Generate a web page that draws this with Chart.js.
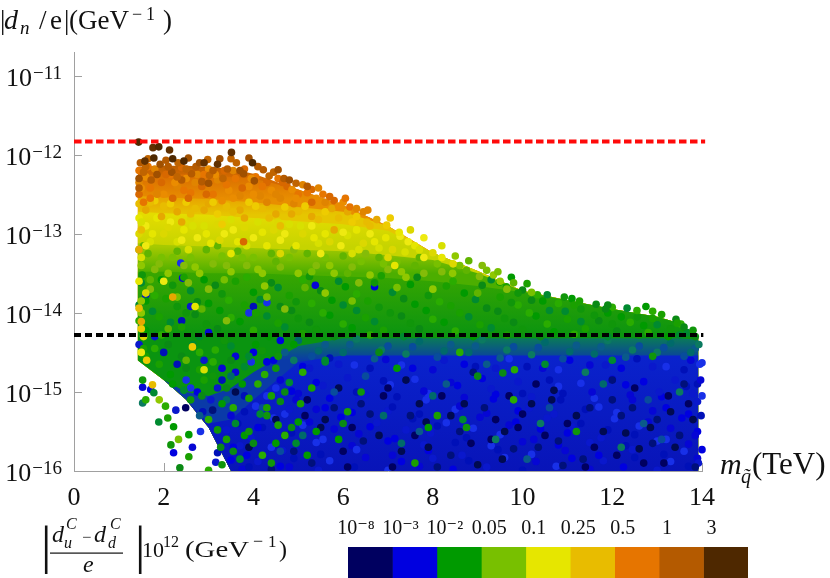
<!DOCTYPE html>
<html><head><meta charset="utf-8">
<script src="https://cdn.jsdelivr.net/npm/chart.js@4.4.1/dist/chart.umd.min.js"></script>
<style>
html,body{margin:0;padding:0;background:#fff;width:830px;height:578px;overflow:hidden}
#main{position:absolute;left:0;top:0}
#cbar{position:absolute;left:290px;top:500px}
</style></head><body>
<canvas id="main" width="830" height="578"></canvas>
<canvas id="cbar" width="476" height="78"></canvas>
<script>
// ---------- data (x = squark mass in TeV, e = log10 |d_n/e| in GeV^-1) ----------
const xTicks = [0, 2, 4, 6, 8, 10, 12, 14];
const yTickExps = [-16, -15, -14, -13, -12, -11];
const yMinExp = -16, yMaxExp = -10.7;
const redLimitExp = -11.833;   // upper dashed line
const blackLimitExp = -14.28;  // lower dashed line

const colorbarLabels = ['10⁻⁸', '10⁻³', '10⁻²', '0.05', '0.1', '0.25', '0.5', '1', '3'];
const colorbarColors = ['#000060', '#0000e0', '#009a00', '#78c000', '#e6e600', '#e8bc00', '#e67500', '#b45a00', '#4e2800'];

// envelope of the dense cloud and colour-zone borders, sampled along x
const bandX      = [1.42, 2, 2.5, 3, 3.5, 4, 5, 6, 7, 8, 9, 10, 11, 12, 13, 13.5, 13.92];
const topEdge    = [-12.15,-12.14,-12.14,-12.15,-12.18,-12.24,-12.44,-12.64,-12.9,-13.24,-13.47,-13.72,-13.84,-13.95,-14.05,-14.13,-14.32];
const brownEdge  = [-12.26,-12.25,-12.25,-12.26,-12.28,-12.3,-12.44,-12.64,-12.9,-13.24,-13.47,-13.72,-13.84,-13.95,-14.05,-14.13,-14.32];
const orangeEdge = [-12.52,-12.54,-12.55,-12.56,-12.58,-12.6,-12.66,-12.72,-12.9,-13.24,-13.47,-13.72,-13.84,-13.95,-14.05,-14.13,-14.32];
const goldEdge   = [-12.72,-12.74,-12.75,-12.76,-12.78,-12.8,-12.84,-12.88,-12.96,-13.24,-13.47,-13.72,-13.84,-13.95,-14.05,-14.13,-14.32];
const yellowEdge = [-13.12,-13.14,-13.15,-13.16,-13.17,-13.18,-13.2,-13.22,-13.27,-13.33,-13.5,-13.72,-13.84,-13.95,-14.05,-14.13,-14.32];
const ygEdge     = [-13.48,-13.48,-13.49,-13.5,-13.5,-13.5,-13.52,-13.54,-13.56,-13.6,-13.66,-13.74,-13.84,-13.95,-14.05,-14.13,-14.32];
const greenEdge  = [-14.6,-14.85,-15.0,-15.05,-14.95,-14.75,-14.42,-14.32,-14.32,-14.32,-14.32,-14.32,-14.32,-14.32,-14.32,-14.32,-14.34];
const tealEdge   = [-14.6,-14.85,-15.1,-15.4,-15.35,-15.1,-14.62,-14.54,-14.54,-14.54,-14.54,-14.54,-14.54,-14.54,-14.54,-14.54,-14.54];
const bottomEdge = [-14.6,-14.85,-15.1,-15.45,-16,-16,-16,-16,-16,-16,-16,-16,-16,-16,-16,-16,-16];

// individual points per colour class [x, log10 y]
const darkBrownPts = [[1.44,-11.84],[1.76,-11.91],[1.89,-11.9],[2.13,-11.94],[1.78,-12.04],[3.51,-11.97],[3.98,-12.1],[1.58,-12.08],[2.45,-12.08],[2.9,-12.1],[2.2,-12.05],[3.2,-12.12]];
const brownPts = [[1.48,-12.1],[1.65,-12.05],[1.92,-12.12],[2.05,-12.07],[2.32,-12.1],[2.55,-12.04],[2.72,-12.15],[2.98,-12.06],[3.25,-12.05],[3.42,-12.18],[3.62,-12.1],[3.9,-12.04],[4.22,-12.19],[4.45,-12.22],[4.55,-12.19],[4.68,-12.3],[1.55,-12.22],[2.18,-12.22],[2.62,-12.24],[3.02,-12.26],[3.78,-12.24],[1.72,-12.32],[3.32,-12.3],[4.02,-12.33],[2.85,-12.34],[4.95,-12.36],[1.45,-12.3],[2.4,-12.32],
 [1.6,-12.15],[1.85,-12.25],[2.1,-12.15],[2.5,-12.18],[2.8,-12.1],[3.1,-12.2],[3.5,-12.05],[3.7,-12.2],[4.1,-12.15],[4.35,-12.27],[4.8,-12.32],[5.2,-12.4],[2.3,-12.28],[3.0,-12.36],[1.45,-12.42]];
const orangePts = [[1.45,-12.2],[1.45,-12.35],[1.45,-12.5],[1.6,-12.28],[1.7,-12.42],[1.8,-12.18],[1.95,-12.35],[2.0,-12.5],[2.15,-12.25],[2.3,-12.4],[2.4,-12.16],[2.5,-12.3],[2.6,-12.48],[2.75,-12.25],[2.85,-12.4],[3.0,-12.18],[3.1,-12.5],[3.2,-12.32],[3.35,-12.2],[3.45,-12.45],[3.6,-12.3],[3.7,-12.52],[3.8,-12.18],[3.9,-12.4],[4.05,-12.28],[4.15,-12.52],[4.3,-12.35],[4.4,-12.45],[4.55,-12.3],[4.6,-12.55],[4.75,-12.4],[4.86,-12.44],[5.0,-12.5],[5.1,-12.38],[5.3,-12.44],[5.4,-12.55],[5.55,-12.5],[5.6,-12.6],[5.8,-12.58],[6.0,-12.6],[6.15,-12.66],[6.3,-12.68],[2.2,-12.55],[3.3,-12.58],[1.55,-12.6],[4.9,-12.62],[3.78,-13.1],
 [1.5,-12.42],[1.65,-12.15],[1.85,-12.5],[2.05,-12.25],[2.25,-12.35],[2.45,-12.45],[2.7,-12.35],[2.95,-12.5],[3.15,-12.25],[3.4,-12.38],[3.55,-12.2],[3.75,-12.42],[4.0,-12.5],[4.2,-12.4],[4.5,-12.5],[4.65,-12.35],[4.95,-12.55],[5.2,-12.48],[5.45,-12.42],[5.7,-12.53],[5.9,-12.65],[6.05,-12.55],[6.45,-12.72],[2.55,-12.55],[3.55,-12.55],[1.7,-12.55],[4.3,-12.6],[5.3,-12.6],[3.95,-12.3],[2.9,-12.25],[6.55,-12.7]];
const goldPts = [[1.45,-12.62],[1.6,-12.7],[1.8,-12.58],[2.0,-12.65],[2.3,-12.72],[2.5,-12.6],[2.7,-12.68],[3.0,-12.62],[3.2,-12.75],[3.4,-12.65],[3.7,-12.7],[3.9,-12.6],[4.2,-12.68],[4.5,-12.75],[4.7,-12.66],[5.0,-12.72],[5.3,-12.78],[5.6,-12.72],[5.9,-12.8],[6.1,-12.72],[6.3,-12.78],[6.53,-12.85],[6.75,-12.82],[6.97,-12.89],[1.5,-12.95],[1.45,-13.2],[1.5,-14.2],[1.45,-13.94],[1.5,-14.11],[2.64,-14.43],[1.75,-14.91],[2.2,-13.8],[1.62,-14.6],
 [1.7,-12.6],[1.95,-12.78],[2.15,-12.62],[2.6,-12.75],[2.9,-12.7],[3.1,-12.6],[3.55,-12.72],[3.8,-12.8],[4.05,-12.65],[4.35,-12.8],[4.85,-12.75],[5.15,-12.65],[5.45,-12.82],[5.75,-12.68],[6.2,-12.85],[6.6,-12.9],[2.4,-12.85],[3.3,-12.88],[4.6,-12.9],[5.8,-12.95],[7.05,-12.8]];
const yellowPts = [[1.45,-12.8],[1.45,-13.0],[1.6,-12.9],[1.7,-13.1],[1.85,-12.8],[2.0,-13.0],[2.15,-12.85],[2.3,-13.1],[2.45,-12.95],[2.6,-12.8],[2.75,-13.05],[2.9,-12.9],[3.05,-13.12],[3.2,-12.88],[3.35,-13.0],[3.5,-12.82],[3.65,-13.1],[3.8,-12.92],[4.0,-13.05],[4.1,-12.85],[4.3,-13.15],[4.45,-12.95],[4.6,-13.08],[4.8,-12.88],[4.95,-13.15],[5.1,-13.0],[5.3,-12.9],[5.45,-13.12],[5.6,-13.0],[5.8,-12.92],[5.95,-13.15],[6.1,-13.02],[6.3,-12.95],[6.45,-13.12],[6.6,-13.0],[6.8,-13.18],[6.95,-13.05],[7.1,-13.2],[7.27,-13.03],[7.38,-13.23],[7.6,-13.15],[8.0,-13.24],[7.8,-13.3],[1.5,-13.3],[1.45,-13.6],[1.55,-14.3],[1.5,-14.5],[2.9,-14.72],[2.7,-13.92],[1.6,-13.75],[2.0,-13.6],
 [1.5,-12.85],[1.75,-13.0],[2.1,-12.92],[2.4,-13.08],[2.65,-12.9],[2.95,-13.0],[3.25,-13.08],[3.55,-12.95],[3.85,-13.15],[4.2,-12.98],[4.55,-12.85],[4.7,-13.0],[5.05,-12.9],[5.35,-13.05],[5.7,-13.1],[6.0,-12.98],[6.35,-13.2],[6.7,-13.1],[7.0,-13.3],[7.45,-13.1],[7.7,-13.2],[8.2,-13.3],[8.45,-13.38],[1.6,-13.15],[2.55,-13.2],[3.5,-13.25],[4.6,-13.25],[5.5,-13.25],[6.2,-13.25],[7.15,-13.4],
 [7.5,-12.95],[7.8,-13.05],[8.2,-13.15],[7.25,-12.98]];
const ygPts = [[1.45,-13.2],[1.5,-13.4],[1.65,-13.25],[1.8,-13.45],[1.95,-13.3],[2.1,-13.5],[2.3,-13.22],[2.45,-13.4],[2.6,-13.3],[2.8,-13.5],[2.95,-13.2],[3.1,-13.38],[3.3,-13.28],[3.5,-13.48],[3.65,-13.22],[3.85,-13.4],[4.0,-13.3],[4.2,-13.5],[4.4,-13.25],[4.6,-13.42],[4.8,-13.3],[5.0,-13.5],[5.2,-13.25],[5.4,-13.4],[5.6,-13.3],[5.8,-13.5],[6.0,-13.28],[6.2,-13.42],[6.4,-13.35],[6.6,-13.52],[6.8,-13.3],[7.0,-13.45],[7.2,-13.35],[7.4,-13.55],[7.6,-13.4],[7.8,-13.5],[8.1,-13.38],[8.44,-13.5],[8.75,-13.46],[9.04,-13.54],[9.2,-13.46],[9.5,-13.6],[9.8,-13.62],[1.7,-13.7],[2.3,-13.8],[1.5,-14.0],[2.1,-14.2],[3.0,-13.7],[2.33,-15.6],[1.9,-15.1],[2.5,-14.6],[3.4,-14.1],[4.3,-13.8],[5.6,-13.75],
 [1.55,-13.15],[1.9,-13.38],[2.2,-13.3],[2.7,-13.42],[3.2,-13.15],[3.4,-13.4],[3.75,-13.3],[4.1,-13.45],[4.5,-13.35],[4.9,-13.2],[5.3,-13.48],[5.7,-13.4],[6.1,-13.5],[6.5,-13.25],[6.9,-13.38],[7.3,-13.48],[7.7,-13.3],[8.2,-13.48],[8.6,-13.4],[9.35,-13.52],[1.7,-13.58],[2.55,-13.62],[3.35,-13.58],[4.25,-13.66],[5.15,-13.68],[6.35,-13.62],[7.2,-13.68],[8.0,-13.7],[9.0,-13.75],[9.65,-13.7],[10.2,-13.74],[1.5,-13.85],[2.85,-13.95],[4.7,-13.95],[6.2,-13.85],
 [8.5,-13.28],[8.8,-13.34],[9.1,-13.4],[9.45,-13.48]];
const greenPts = [[9.49,-13.61],[9.64,-13.67],[10.0,-13.71],[10.33,-13.77],[10.55,-13.77],[10.93,-13.8],[11.1,-13.82],[11.27,-13.85],[11.64,-13.89],[12.0,-13.93],[12.33,-13.94],[12.56,-14.05],[12.75,-13.92],[13.1,-14.02],[13.42,-14.08],[13.53,-14.14],[13.67,-14.25],[13.8,-14.22],[9.75,-13.55],[10.1,-13.63],[11.9,-13.9],[12.9,-13.98],
 [1.5,-13.62],[2.2,-13.65],[2.9,-13.58],[3.6,-13.6],[4.4,-13.62],[5.1,-13.58],[5.9,-13.6],[6.7,-13.62],[7.5,-13.64],[8.3,-13.66],[9.1,-13.65],
 [1.8,-13.78],[2.6,-13.72],[3.3,-13.76],[4.0,-13.74],[4.8,-13.78],[5.5,-13.72],[6.3,-13.76],[7.1,-13.74],[7.9,-13.78],[8.7,-13.75],[9.5,-13.8],[10.2,-13.84],[10.8,-13.88],
 [1.45,-13.9],[2.3,-13.92],[3.0,-13.88],[3.8,-13.9],[4.6,-13.92],[5.3,-13.88],[6.0,-13.9],[6.8,-13.93],[7.6,-13.89],[8.4,-13.91],[9.2,-13.94],[9.9,-13.9],[10.6,-13.97],[11.3,-13.95],[11.9,-14.0],
 [1.9,-14.05],[2.7,-14.02],[3.5,-14.06],[4.3,-14.04],[5.0,-14.07],[5.7,-14.03],[6.5,-14.06],[7.3,-14.04],[8.0,-14.08],[8.8,-14.05],[9.6,-14.07],[10.3,-14.04],[11.0,-14.08],[11.7,-14.1],[12.4,-14.12],[13.0,-14.15],[13.3,-14.2],
 [1.6,-14.22],[2.4,-14.18],[3.2,-14.2],[4.0,-14.22],[4.7,-14.18],[5.4,-14.21],[6.2,-14.19],[6.9,-14.22],[7.7,-14.2],[8.5,-14.23],[9.3,-14.19],[10.0,-14.21],[10.7,-14.24],[11.4,-14.2],[12.1,-14.23],[12.8,-14.25],[13.5,-14.28],
 [1.52,-13.52],[1.95,-13.58],[2.45,-13.55],[3.15,-13.65],[3.85,-13.55],[4.55,-13.68],[5.25,-13.54],[6.05,-13.67],[6.85,-13.53],[7.65,-13.55],[8.45,-13.6],[9.3,-13.58],[9.9,-13.75],
 [1.6,-13.85],[2.05,-13.82],[2.75,-13.86],[3.45,-13.84],[4.15,-13.83],[4.95,-13.86],[5.75,-13.84],[6.55,-13.85],[7.35,-13.82],[8.15,-13.86],[8.95,-13.83],[9.75,-13.87],[10.45,-13.85],[11.15,-13.9],[11.85,-13.95],[12.55,-13.97],
 [1.75,-13.98],[2.5,-14.0],[3.25,-13.97],[4.05,-14.0],[4.85,-13.97],[5.55,-14.0],[6.3,-13.97],[7.05,-14.0],[7.85,-13.97],[8.6,-14.0],[9.45,-13.98],[10.15,-14.0],[10.95,-13.98],[11.6,-14.03],[12.2,-14.05],[12.9,-14.07],[13.6,-14.18],
 [1.45,-14.1],[2.15,-14.12],[2.95,-14.14],[3.7,-14.11],[4.55,-14.13],[5.25,-14.12],[6.0,-14.14],[6.7,-14.11],[7.5,-14.13],[8.25,-14.12],[9.05,-14.15],[9.8,-14.12],[10.55,-14.14],[11.3,-14.11],[12.0,-14.14],[12.7,-14.16],[13.45,-14.13],[13.85,-14.3],
 [1.95,-14.28],[2.8,-14.3],[3.55,-14.27],[4.35,-14.3],[5.1,-14.26],[5.8,-14.3],[6.6,-14.28],[7.35,-14.3],[8.1,-14.27],[8.9,-14.3],[9.65,-14.28],[10.4,-14.3],[11.15,-14.27],[11.9,-14.3],[12.6,-14.28],[13.25,-14.3],
 [1.55,-14.45],[2.1,-14.4],[2.8,-14.5],[3.5,-14.42],[4.2,-14.48],[4.9,-14.4],
 [1.9,-14.65],[2.5,-14.7],[3.1,-14.62],[3.8,-14.68],[4.5,-14.7],
 [2.2,-14.9],[2.9,-14.85],[3.4,-14.95],[4.1,-14.9],[4.8,-14.88],
 [2.6,-15.1],[3.3,-15.15],[3.9,-15.08],[4.6,-15.12],
 [3.0,-15.35],[3.6,-15.4],[4.3,-15.3],[5.0,-15.38],
 [3.4,-15.6],[4.0,-15.65],[4.7,-15.55],
 [3.7,-15.85],[4.4,-15.9],[5.2,-15.8],
 [1.6,-14.55],[2.4,-14.55],[3.15,-14.47],[3.9,-14.55],[4.55,-14.55],[2.15,-14.78],[2.8,-14.72],[3.5,-14.6],[4.25,-14.78],[2.45,-14.98],[3.1,-14.8],[3.75,-14.9],[4.4,-15.05],[2.85,-15.05],[3.55,-15.2],[4.15,-15.28],[3.2,-15.48],[3.8,-15.55],[4.55,-15.42],[3.55,-15.75],[4.2,-15.8],[4.95,-15.65],[3.3,-15.92],[5.4,-15.5],[5.3,-14.95],[6.0,-15.4],[1.8,-14.45],[2.65,-14.4],[3.35,-14.35],[4.05,-14.4],
 [4.3,-15.2],[4.7,-15.0],[5.1,-14.75],[5.6,-14.62],[3.9,-15.5],[4.5,-15.65],[5.05,-15.15],[4.85,-15.45],
 [2.04,-15.18],[1.89,-15.38],[2.16,-15.67],[2.56,-15.54],[2.56,-15.82],[2.36,-15.96],[1.6,-15.1],[1.78,-15.01],[1.53,-14.85],[2.22,-15.44],[2.09,-15.33],[3.27,-15.7],[3.0,-15.99],
 [5.6,-14.6],[6.4,-15.0],[7.2,-14.7],[8.1,-15.3],[9.0,-14.8],[9.8,-15.1],[10.5,-14.65],[11.2,-15.5],[5.9,-15.6],[7.6,-15.9],[6.8,-14.5],[8.6,-14.5],[12.0,-14.6],[12.9,-14.55],[7.9,-15.45],[6.1,-15.25],[9.56,-14.76],[9.82,-14.72],[8.67,-15.35],[8.75,-15.45]];
const tealPts = [[5.0,-14.35],[5.6,-14.4],[6.3,-14.33],[7.0,-14.42],[7.7,-14.36],[8.4,-14.4],[9.1,-14.34],[9.8,-14.43],[10.5,-14.37],[11.2,-14.41],[11.9,-14.35],[12.6,-14.42],[13.3,-14.38],[13.85,-14.45],[13.93,-14.4],
 [5.3,-14.55],[6.0,-14.5],[6.7,-14.58],[7.4,-14.52],[8.1,-14.56],[8.8,-14.5],[9.5,-14.57],[10.2,-14.53],[10.9,-14.58],[11.6,-14.52],[12.3,-14.56],[13.0,-14.5],[13.6,-14.55],
 [5.45,-14.48],[6.15,-14.4],[6.85,-14.47],[7.55,-14.43],[8.25,-14.48],[8.95,-14.42],[9.65,-14.47],[10.35,-14.44],[11.05,-14.49],[11.75,-14.43],[12.45,-14.47],[13.15,-14.44],[13.75,-14.5],[4.7,-14.5],[4.9,-14.6],
 [5.8,-15.0],[6.9,-15.3],[8.3,-14.9],[9.4,-15.6],[10.6,-15.2],[11.8,-14.9],[12.7,-15.4],[13.5,-15.0],[4.2,-15.2],[3.5,-14.8],[2.8,-15.3],[1.53,-15.14],[4.6,-15.75],[7.3,-15.65],[10.1,-15.85],[12.2,-15.7],
 [6.5,-14.8],[8.0,-15.05],[9.2,-14.65],[11.4,-14.75],[12.8,-15.1],[5.1,-15.55],[7.7,-15.5],[10.4,-15.4],[13.1,-15.6],[3.4,-15.1]];
const bluePts = [[5.1,-14.68],[5.9,-14.65],[6.6,-14.7],[7.3,-14.66],[8.0,-14.72],[8.7,-14.65],[9.4,-14.7],[10.1,-14.68],[10.8,-14.72],[11.5,-14.66],[12.2,-14.7],[12.9,-14.68],[13.6,-14.72],[13.95,-14.65],
 [4.6,-14.85],[5.4,-14.88],[6.1,-14.82],[6.9,-14.86],[7.6,-14.84],[8.4,-14.88],[9.1,-14.83],[9.9,-14.87],[10.6,-14.85],[11.3,-14.89],[12.0,-14.84],[12.7,-14.87],[13.4,-14.85],[13.9,-14.9],
 [4.3,-15.05],[5.0,-15.02],[5.7,-15.08],[6.5,-15.04],[7.2,-15.06],[7.9,-15.02],[8.7,-15.07],[9.4,-15.03],[10.2,-15.06],[10.9,-15.02],[11.6,-15.08],[12.4,-15.04],[13.1,-15.06],[13.8,-15.02],
 [3.8,-15.25],[4.7,-15.28],[5.4,-15.22],[6.2,-15.26],[7.0,-15.24],[7.7,-15.28],[8.5,-15.22],[9.2,-15.27],[9.9,-15.24],[10.7,-15.28],[11.4,-15.22],[12.1,-15.26],[12.9,-15.24],[13.7,-15.28],
 [3.4,-15.48],[4.2,-15.45],[5.1,-15.42],[5.8,-15.47],[6.6,-15.44],[7.4,-15.48],[8.1,-15.43],[8.9,-15.46],[9.7,-15.42],[10.4,-15.47],[11.1,-15.44],[11.9,-15.48],[12.6,-15.43],[13.3,-15.46],[13.9,-15.5],
 [3.7,-15.68],[4.5,-15.66],[5.4,-15.64],[6.2,-15.68],[7.0,-15.62],[7.8,-15.67],[8.5,-15.64],[9.3,-15.68],[10.0,-15.63],[10.8,-15.67],[11.5,-15.64],[12.3,-15.68],[13.0,-15.62],[13.7,-15.66],
 [3.5,-15.86],[4.1,-15.88],[4.9,-15.84],[5.7,-15.87],[6.5,-15.83],[7.3,-15.88],[8.0,-15.84],[8.8,-15.87],[9.6,-15.83],[10.3,-15.88],[11.1,-15.84],[11.8,-15.87],[12.5,-15.83],[13.3,-15.88],[13.9,-15.84],
 [4.45,-14.6],[5.25,-14.7],[5.7,-14.57],[6.25,-14.66],[6.95,-14.59],[7.55,-14.7],[8.25,-14.6],[8.95,-14.68],[9.7,-14.58],[10.45,-14.7],[11.05,-14.6],[11.85,-14.66],[12.55,-14.58],[13.2,-14.68],[13.75,-14.6],
 [4.85,-14.99],[5.55,-14.92],[6.3,-15.0],[7.05,-14.91],[7.8,-14.99],[8.55,-14.92],[9.3,-14.96],[10.0,-15.02],[10.8,-14.93],[11.55,-15.0],[12.3,-14.91],[13.05,-15.0],[13.65,-14.93],
 [4.05,-15.18],[4.95,-15.1],[5.6,-15.2],[6.35,-15.1],[7.1,-15.19],[7.85,-15.1],[8.6,-15.18],[9.35,-15.09],[10.15,-15.2],[10.85,-15.1],[11.7,-15.19],[12.45,-15.1],[13.2,-15.2],[13.9,-15.12],
 [3.65,-15.4],[4.45,-15.33],[5.25,-15.38],[5.95,-15.32],[6.75,-15.39],[7.55,-15.34],[8.3,-15.39],[9.05,-15.32],[9.85,-15.38],[10.55,-15.33],[11.3,-15.4],[12.05,-15.34],[12.8,-15.38],[13.55,-15.33],
 [3.95,-15.58],[4.85,-15.52],[5.55,-15.6],[6.35,-15.53],[7.15,-15.59],[7.95,-15.52],[8.75,-15.58],[9.5,-15.54],[10.25,-15.6],[11.0,-15.52],[11.75,-15.58],[12.5,-15.54],[13.2,-15.6],[13.85,-15.55],
 [3.85,-15.8],[4.65,-15.74],[5.5,-15.79],[6.3,-15.73],[7.1,-15.8],[7.9,-15.74],[8.65,-15.8],[9.45,-15.73],[10.2,-15.79],[10.95,-15.74],[11.7,-15.8],[12.45,-15.73],[13.15,-15.79],[13.6,-15.75],
 [3.75,-15.98],[4.6,-15.94],[5.45,-15.99],[6.25,-15.95],[7.0,-15.99],[7.7,-15.94],[8.45,-15.98],[9.2,-15.95],[10.0,-15.99],[10.75,-15.94],[11.5,-15.98],[12.25,-15.95],[13.0,-15.99],[13.7,-15.94],
 [2.38,-13.37],[2.42,-13.56],[1.6,-13.77],[2.6,-13.92],[4.0,-13.92],[4.3,-13.87],[5.38,-13.65],[6.7,-13.67],[1.45,-14.4],[2.0,-14.5],[2.6,-14.95],[3.3,-14.7],[4.0,-14.5],[1.8,-14.3],[2.4,-14.1],[3.9,-14.0],[3.0,-14.25],[4.6,-14.35],
 [2.9,-14.6],[3.3,-14.85],[2.5,-14.85],[3.6,-14.75],[2.75,-15.0],[3.05,-15.1],[2.3,-14.65],[3.95,-14.62],
 [1.53,-14.94],[1.71,-14.97],[2.27,-15.23],[2.87,-15.25],[2.82,-15.5],[2.64,-15.7],[2.22,-15.77],[3.16,-15.89],[3.2,-15.77],
 [14.0,-14.63],[13.97,-14.85],[14.0,-15.73],[13.92,-15.9],[13.98,-15.3],[14.0,-15.05],
 [3.6,-14.55],[4.3,-14.62],[3.2,-14.95],[3.8,-15.05],[4.5,-14.95],[3.5,-15.3],[4.1,-15.45],[4.8,-15.22],[3.9,-15.95],[4.4,-15.7],[4.8,-15.95],[3.55,-15.7]];
const navyPts = [[4.7,-15.55],[5.3,-15.9],[5.6,-15.35],[6.0,-15.75],[6.4,-15.15],[6.8,-15.55],[7.1,-15.95],[7.5,-15.3],[7.9,-15.7],[8.2,-15.05],[8.6,-15.5],[9.0,-15.92],[9.4,-15.35],[9.8,-15.72],[10.2,-15.15],[10.5,-15.55],[10.9,-15.93],[11.2,-15.3],[11.6,-15.7],[12.0,-15.1],[12.3,-15.52],[12.7,-15.9],[13.0,-15.35],[13.4,-15.7],[13.7,-15.15],[13.85,-15.95],[5.9,-14.95],[7.0,-14.95],[8.9,-14.75],[10.7,-14.98],[12.5,-14.95],[4.4,-15.98],[3.9,-15.7],[2.49,-15.2],[3.09,-15.23],[3.6,-15.0],[6.2,-15.45],[8.4,-15.8],[9.6,-15.5],[11.4,-15.95],[12.9,-15.65],[7.7,-15.15],[10.0,-15.28],[12.2,-15.3],[13.3,-15.25],[5.2,-15.1],
 [4.9,-15.75],[5.5,-15.45],[6.1,-15.95],[6.6,-15.28],[7.3,-15.75],[7.6,-15.55],[8.1,-15.95],[8.4,-15.3],[8.85,-15.65],[9.15,-15.2],[9.55,-15.85],[9.9,-15.45],[10.35,-15.7],[10.65,-15.1],[11.0,-15.4],[11.35,-15.85],[11.8,-15.5],[12.1,-15.8],[12.45,-15.2],[12.85,-15.45],[13.15,-15.9],[13.5,-15.55],[13.8,-15.35],[5.15,-15.3],[6.45,-15.62],[7.85,-15.38],[9.3,-15.6],[10.8,-15.62],[12.6,-15.72],[13.25,-15.05],[11.5,-15.2],[8.7,-15.15],[6.9,-15.05],[5.8,-15.2],[4.5,-15.35],[10.3,-14.9],[12.0,-14.85],[7.4,-14.85],[9.7,-15.05],[13.6,-14.9]];

// ---------- styling ----------
const serif = '"Liberation Serif","DejaVu Serif",serif';
const axisColor = '#a0a0a0';
const textColor = '#111';
const P = (arr) => arr.map(([x, e]) => ({x: x, y: Math.pow(10, e)}));

const bandEdges = [topEdge, brownEdge, orangeEdge, goldEdge, yellowEdge, ygEdge, greenEdge, tealEdge];
// vertical colour ramps for each zone: [colour at upper exponent, colour at lower exponent, upper, lower]
const bandRamps = [
  ['#b45a00', '#d46a00', -12.1, -12.28],
  ['#da6e00', '#e88e00', -12.26, -12.56],
  ['#e8a600', '#e6c600', -12.56, -12.76],
  ['#e4dc00', '#c6d400', -12.76, -13.16],
  ['#a6ca00', '#4cae00', -13.16, -13.5],
  ['#38a600', '#0a9410', -13.5, -14.3],
  ['#0a7a58', '#0a3aa8', -14.32, -14.6],
  ['#0a22cc', '#0814b8', -14.56, -16]
];
const rampFill = (r) => (c) => {
  const ch = c.chart;
  if (!ch.chartArea || !ch.scales.y) return r[0];
  const ys = ch.scales.y;
  const g = ch.ctx.createLinearGradient(0, ys.getPixelForValue(Math.pow(10, r[2])), 0, ys.getPixelForValue(Math.pow(10, r[3])));
  g.addColorStop(0, r[0]); g.addColorStop(1, r[1]);
  return g;
};
const datasets = [];
bandEdges.forEach((edge, i) => {
  datasets.push({type: 'line', data: P(bandX.map((x, j) => [x, edge[j]])), showLine: true, borderWidth: 0,
    pointRadius: 0, fill: bandEdges.length, backgroundColor: rampFill(bandRamps[i]), order: 100 - i, tension: 0});
});
datasets.push({type: 'line', data: P(bandX.map((x, j) => [x, bottomEdge[j]])), showLine: true, borderWidth: 0,
  pointRadius: 0, fill: false, order: 90});

const pointGroups = [
  [bluePts,      ['#0000e0', '#0a18cc', '#0010b8', '#1830e8', '#0606d4'], 30],
  [navyPts,      ['#000060', '#00107a', '#000a50'], 29],
  [tealPts,      ['#006a6a', '#0a5a8a', '#0b7a60', '#084c9c'], 28],
  [greenPts,     ['#009a00', '#1aa000', '#0a8a14', '#2aac00', '#008a30', '#10960a'], 27],
  [ygPts,        ['#78c000', '#90c800', '#60b400', '#84bc08'], 26],
  [yellowPts,    ['#e6e600', '#dcd800', '#eeea10', '#d8e000'], 25],
  [goldPts,      ['#e8bc00', '#e6a800', '#eecc00'], 24],
  [orangePts,    ['#e67500', '#e08400', '#d86800', '#ea8c00'], 23],
  [brownPts,     ['#b45a00', '#c06400', '#a05000'], 22],
  [darkBrownPts, ['#4e2800', '#603000'], 21]
];
pointGroups.forEach(([arr, shades, ord]) => {
  datasets.push({type: 'scatter', data: P(arr), pointRadius: 3.8, pointHoverRadius: 3.8, borderWidth: 0,
    backgroundColor: (c) => shades[c.dataIndex % shades.length], order: ord, clip: {left: 8, top: 8, right: 8, bottom: 0}});
});
datasets.push({type: 'line', data: P([[0, redLimitExp], [14.07, redLimitExp]]), borderColor: '#ff0a0a', borderWidth: 4,
  borderDash: [7.5, 3.5], pointRadius: 0, fill: false, order: 1, clip: false});
datasets.push({type: 'line', data: P([[0, blackLimitExp], [14.03, blackLimitExp]]), borderColor: '#000', borderWidth: 4,
  borderDash: [7, 4], pointRadius: 0, fill: false, order: 0, clip: false});

const F = (s, it) => `${it ? 'italic ' : ''}${s}px ${serif}`;
function txt(ctx, t, font, x, y, sx) {
  ctx.font = font;
  if (sx && sx !== 1) { ctx.save(); ctx.translate(x, y); ctx.scale(sx, 1); ctx.fillText(t, 0, 0); ctx.restore(); }
  else ctx.fillText(t, x, y);
}

const decor = {
  id: 'decor',
  beforeDatasetsDraw(chart) {
    const {ctx, scales: {x, y}, chartArea: a} = chart;
    ctx.save();
    ctx.strokeStyle = axisColor; ctx.lineWidth = 1;
    yTickExps.forEach(e => {
      const py = Math.round(y.getPixelForValue(Math.pow(10, e))) + 0.5;
      ctx.beginPath(); ctx.moveTo(a.left, py); ctx.lineTo(a.left + 8, py); ctx.stroke();
    });
    xTicks.forEach(v => {
      const px = Math.round(x.getPixelForValue(v)) + 0.5;
      ctx.beginPath(); ctx.moveTo(px, a.bottom); ctx.lineTo(px, a.bottom - 8); ctx.stroke();
    });
    ctx.restore();
  },
  afterDraw(chart) {
    const {ctx, scales: {x, y}, chartArea: a} = chart;
    ctx.save();
    ctx.fillStyle = textColor; ctx.textAlign = 'left'; ctx.textBaseline = 'alphabetic';
    // y tick labels 10^e
    yTickExps.forEach(e => {
      const py = y.getPixelForValue(Math.pow(10, e));
      const sup = '−' + Math.abs(e);
      ctx.font = F(19); const ws = ctx.measureText(sup).width;
      ctx.font = F(26); const wb = ctx.measureText('10').width;
      const x0 = a.left - 12 - ws - wb - 1;
      txt(ctx, '10', F(26), x0, py + 10);
      txt(ctx, sup, F(19), x0 + wb + 1, py + 3);
    });
    // y axis title |d_n/e|(GeV^-1)
    txt(ctx, '|', F(27), 0, 29);
    txt(ctx, 'd', F(28, true), 4, 29);
    txt(ctx, 'n', F(19, true), 20, 34);
    txt(ctx, '/', F(27), 39, 29);
    txt(ctx, 'e', F(27), 50, 29);
    txt(ctx, '|', F(27), 64, 29);
    txt(ctx, '(GeV', F(27), 69, 29);
    txt(ctx, '−', F(18), 132, 20);
    txt(ctx, '1', F(18), 146, 20);
    txt(ctx, ')', F(27), 163, 29);
    // x axis title m_q~(TeV)
    txt(ctx, 'm', F(30, true), 720, 474);
    txt(ctx, 'q\u0303', F(20, true), 741, 483);
    txt(ctx, '(TeV)', F(31), 752, 474);
    // colour-bar quantity |(d_u^C - d_d^C)/e| 10^12 (GeV^-1)
    txt(ctx, '|', F(52), 41, 563);
    txt(ctx, 'd', F(24, true), 52, 542);
    txt(ctx, 'C', F(16, true), 66, 529);
    txt(ctx, 'u', F(16, true), 64, 548);
    txt(ctx, '−', F(15), 82, 542, 1.1);
    txt(ctx, 'd', F(24, true), 94, 542);
    txt(ctx, 'C', F(16, true), 110, 529);
    txt(ctx, 'd', F(16, true), 108, 548);
    ctx.fillRect(50, 552.5, 73, 1.2);
    txt(ctx, 'e', F(24, true), 83, 572);
    txt(ctx, '|', F(52), 135, 563);
    txt(ctx, '10', F(22), 142, 557);
    txt(ctx, '12', F(16), 163, 547);
    txt(ctx, '(GeV', F(24), 185, 557, 1.2);
    txt(ctx, '−', F(18), 253, 547);
    txt(ctx, '1', F(17), 268, 547);
    txt(ctx, ')', F(24), 279, 557);
    ctx.restore();
  }
};

new Chart(document.getElementById('main'), {
  type: 'scatter',
  data: {datasets: datasets},
  options: {
    responsive: false, animation: false, events: [], devicePixelRatio: 1,
    layout: {padding: {top: 52, right: 128, left: 0, bottom: 0}},
    plugins: {legend: {display: false}, tooltip: {enabled: false}},
    scales: {
      x: {type: 'linear', min: 0, max: 14,
        afterBuildTicks: s => { s.ticks = xTicks.map(v => ({value: v})); },
        ticks: {autoSkip: false, maxRotation: 0, padding: 12, color: textColor, font: {family: serif, size: 26}},
        grid: {display: false, drawTicks: false}, border: {display: true, color: axisColor, width: 1},
        afterFit: s => { s.height = 107; }},
      y: {type: 'logarithmic', min: Math.pow(10, yMinExp), max: Math.pow(10, yMaxExp),
        ticks: {display: false}, grid: {display: false, drawTicks: false},
        border: {display: true, color: axisColor, width: 1},
        afterFit: s => { s.width = 74; }}
    }
  },
  plugins: [decor]
});

new Chart(document.getElementById('cbar'), {
  type: 'bar',
  data: {labels: [''], datasets: colorbarColors.map(c => ({data: [1], backgroundColor: c, borderWidth: 0,
    barPercentage: 1, categoryPercentage: 1}))},
  options: {
    indexAxis: 'y', responsive: false, animation: false, events: [], devicePixelRatio: 1,
    layout: {padding: {left: 58, right: 18, top: 16, bottom: 0}},
    plugins: {legend: {display: false}, tooltip: {enabled: false}},
    scales: {
      x: {type: 'linear', stacked: true, position: 'top', min: 0, max: 9,
        afterBuildTicks: s => { s.ticks = colorbarLabels.map((l, i) => ({value: i})); },
        ticks: {autoSkip: false, maxRotation: 0, labelOffset: 8, padding: 6, color: textColor,
          font: {family: serif, size: 20}, callback: v => colorbarLabels[v]},
        grid: {display: false, drawTicks: false}, border: {display: false}},
      y: {stacked: true, display: false}
    }
  }
});
</script></body></html>
